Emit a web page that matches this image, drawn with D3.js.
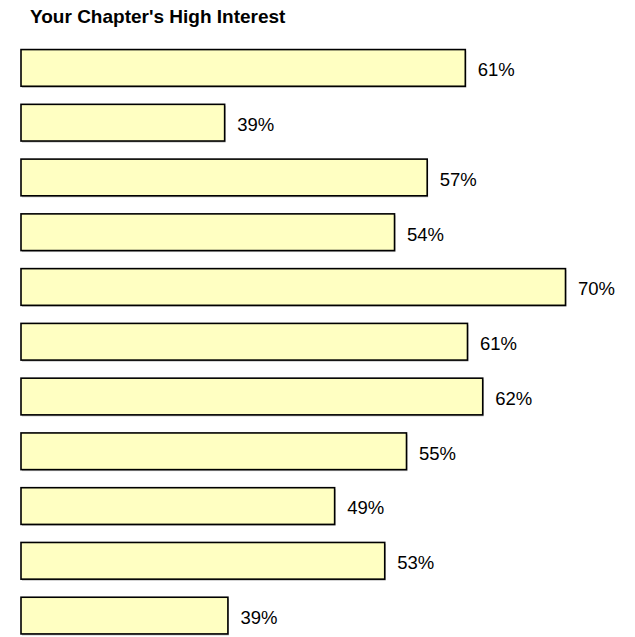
<!DOCTYPE html>
<html><head><meta charset="utf-8">
<script src="https://cdn.jsdelivr.net/npm/d3@7"></script>
<style>html,body{margin:0;padding:0;background:#fff;}</style>
</head><body>
<svg id="chart" width="635" height="637"></svg>
<script>
const title = "Your Chapter's High Interest";
const categories = ["Item 1","Item 2","Item 3","Item 4","Item 5","Item 6","Item 7","Item 8","Item 9","Item 10","Item 11"];
const values = [60.8, 38.7, 57.3, 54.3, 70.0, 61.0, 62.4, 55.4, 48.8, 53.4, 39.0];

const svg = d3.select("#chart");
const x = d3.scaleLinear().domain([20, 70]).range([21, 565.5]);
const y = d3.scaleBand().domain(categories).range([31.5, 652]).paddingInner(0.33).paddingOuter(0.33);
const fmt = d => d3.format(".0f")(d) + "%";

svg.append("text").attr("x", 30).attr("y", 22.5)
  .attr("font-family", "Liberation Sans, Arial, sans-serif")
  .attr("font-size", 19).attr("font-weight", "bold").attr("fill", "#000")
  .text(title);

const g = svg.append("g");
g.selectAll("rect.sh").data(values).join("rect").attr("class", "sh")
  .attr("x", x(20) + 1).attr("y", (d, i) => y(categories[i]) + 1.5)
  .attr("width", d => x(d) - x(20)).attr("height", y.bandwidth())
  .attr("fill", "#bdbdbd");
g.selectAll("rect.bar").data(values).join("rect").attr("class", "bar")
  .attr("x", x(20)).attr("y", (d, i) => y(categories[i]))
  .attr("width", d => x(d) - x(20)).attr("height", y.bandwidth())
  .attr("fill", "#FFFFC2").attr("stroke", "#000").attr("stroke-width", 1.6);
g.selectAll("text.lab").data(values).join("text").attr("class", "lab")
  .attr("x", d => x(d) + 12.5).attr("y", (d, i) => y(categories[i]) + y.bandwidth() / 2)
  .attr("dy", "0.45em")
  .attr("font-family", "Liberation Sans, Arial, sans-serif").attr("font-size", 18.5)
  .attr("fill", "#000").text(fmt);
</script>
</body></html>
